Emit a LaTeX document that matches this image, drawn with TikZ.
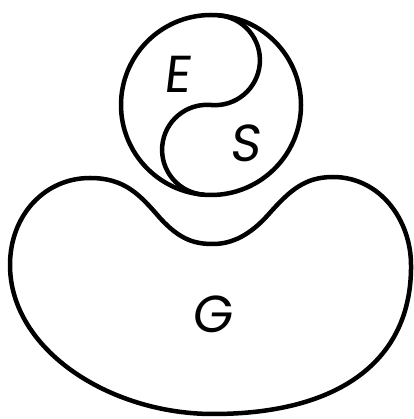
\documentclass[tikz,border=0pt]{standalone}
\usepackage{fontspec}
\usetikzlibrary{calc}
\setmainfont{Poppins}[FakeSlant=0.12]
\begin{document}
\begin{tikzpicture}[x=1pt,y=1pt,
  outline/.style={line width=4.5pt,black,line join=round,line cap=round},
  letter/.style={font=\fontsize{52}{60}\selectfont,inner sep=0pt,anchor=center}]
\useasboundingbox (0,0) rectangle (413,419);
% bean (G)
\draw[outline] (90,241) .. controls (125,241) and (140,224) .. (160,201)
  .. controls (180,179) and (195,175) .. (213,175)
  .. controls (232,175) and (250,184) .. (268,204)
  .. controls (290,229) and (305,242) .. (333,242)
  .. controls (380,242) and (411,199) .. (411,154)
  .. controls (412,59) and (340,5) .. (213,5)
  .. controls (110,5) and (10,69) .. (10,154)
  .. controls (10,204) and (45,241) .. (90,241) -- cycle;
% circle (E/S)
\coordinate (C) at (211,314);
\draw[outline] (C) circle[radius=90];
\coordinate (T) at ($(C)+(85:90)$);
\draw[outline] (T) arc[start angle=85,end angle=-95,radius=45]
  arc[start angle=85,end angle=265,radius=45];
\node[letter] (E) at (177,345) {E};
\node[letter] (S) at (245,276) {S};
\node[letter] (G) at (212,105) {G};
\end{tikzpicture}
\end{document}
